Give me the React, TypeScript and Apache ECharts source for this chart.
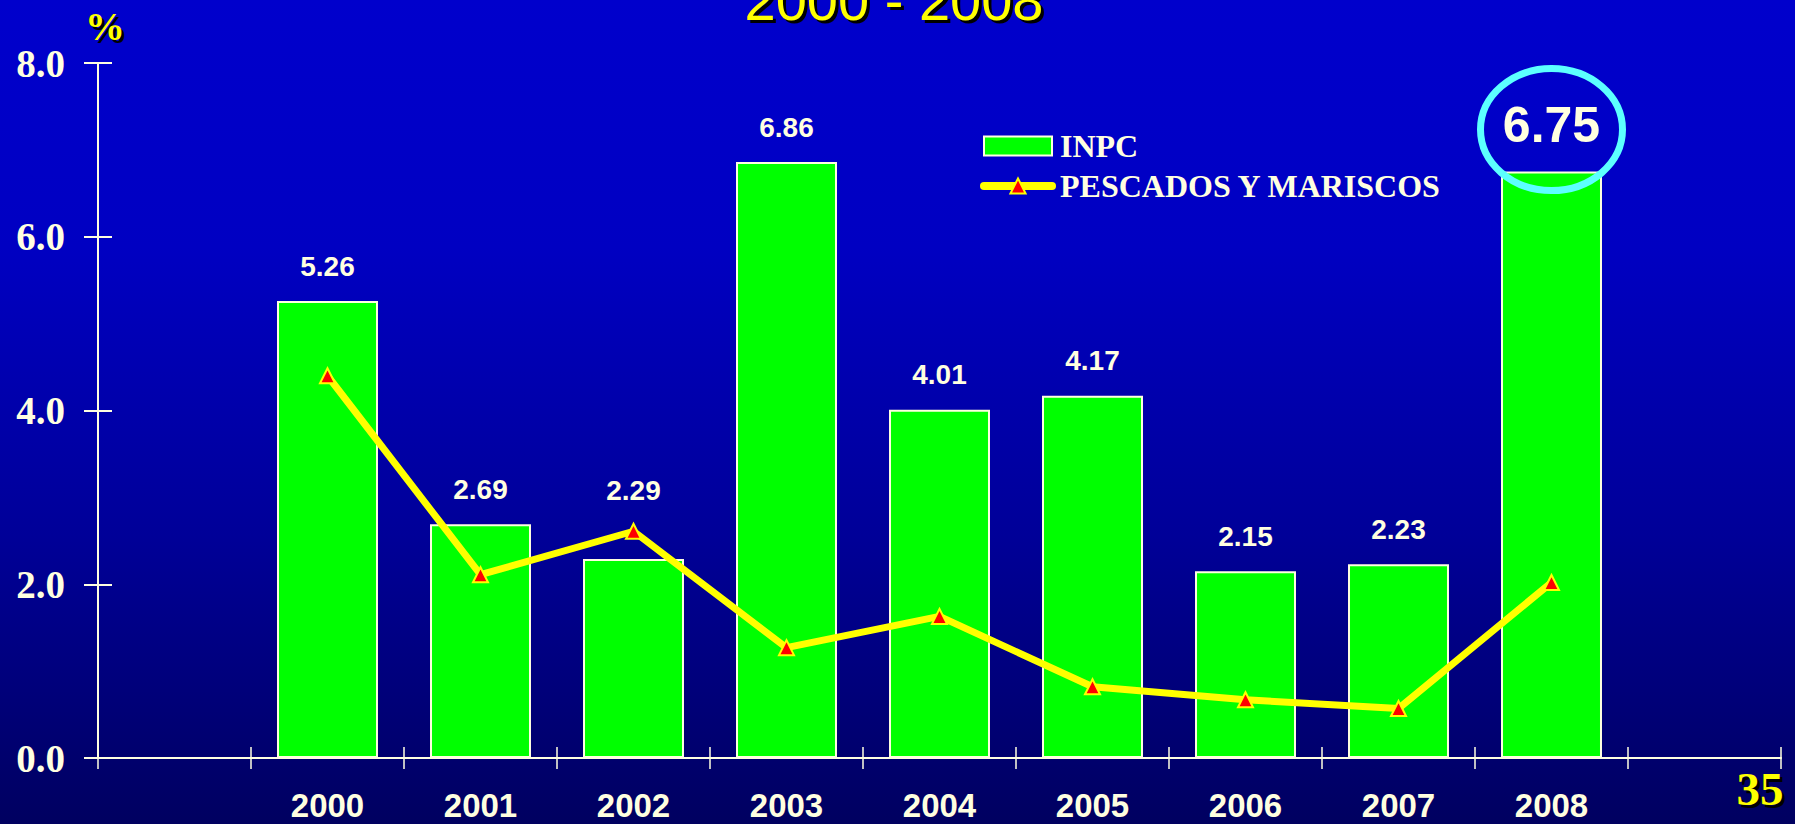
import React, { useEffect, useRef } from "react";
import * as echarts from "echarts";

const years = ["2000", "2001", "2002", "2003", "2004", "2005", "2006", "2007", "2008"];
const inpc = [5.26, 2.69, 2.29, 6.86, 4.01, 4.17, 2.15, 2.23, 6.75];
const pescados = [4.4, 2.11, 2.61, 1.27, 1.63, 0.82, 0.67, 0.57, 2.02];
const yMin = 0;
const yMax = 8;
const yInterval = 2;
const titleText = "2000 - 2008";
const unitText = "%";
const pageNumber = "35";

const CREAM = "#FFFFE0";

export default function App() {
  const ref = useRef<HTMLDivElement>(null);

  useEffect(() => {
    document.body.style.margin = "0";
    const chart = echarts.init(ref.current!, undefined, { renderer: "svg" });

    const categories = ["", ...years, ""];
    const highlightIndex = inpc.length - 1;
    const raisedLabelIndex = 2;
    const barData: any[] = ["-"];
    inpc.forEach((v, i) => {
      if (i === highlightIndex) {
        barData.push({ value: v, label: { fontSize: 50, distance: 22 } });
      } else if (i === raisedLabelIndex) {
        barData.push({ value: v, label: { distance: 55 } });
      } else {
        barData.push(v);
      }
    });
    barData.push("-");
    const lineData: any[] = ["-", ...pescados, "-"];

    const shadowText = (x: number, y: number, text: string, font: any, fill: string) => [
      {
        type: "text",
        x: x + 3,
        y: y + 3,
        z: 99,
        style: { text, fill: "#000000", align: "center", verticalAlign: "middle", ...font },
      },
      {
        type: "text",
        x,
        y,
        z: 100,
        style: { text, fill, align: "center", verticalAlign: "middle", ...font },
      },
    ];

    const tickStyleX = { color: CREAM, width: 1.5 };
    const tickStyleY = { color: CREAM, width: 2 };

    chart.setOption({
      animation: false,
      backgroundColor: new echarts.graphic.LinearGradient(0, 0, 0, 1, [
        { offset: 0, color: "#0000CC" },
        { offset: 0.3, color: "#0000C2" },
        { offset: 0.65, color: "#000098" },
        { offset: 1, color: "#000060" },
      ]),
      grid: { left: 98, right: 14, top: 63, bottom: 66 },
      legend: {
        orient: "vertical",
        left: 975,
        top: 125,
        itemWidth: 68,
        itemHeight: 19,
        itemGap: 8,
        textStyle: {
          color: CREAM,
          fontFamily: "Liberation Serif",
          fontWeight: "bold",
          fontSize: 32,
          padding: [0, 0, 0, 3],
        },
        data: [
          { name: "INPC", icon: "rect" },
          {
            name: "PESCADOS Y MARISCOS",
            lineStyle: { width: 8, cap: "round", color: "#FFFF00" },
          },
        ],
      },
      xAxis: [
        {
          type: "category",
          data: categories,
          position: "bottom",
          show: true,
          axisLine: { show: true, lineStyle: { color: CREAM, width: 2 } },
          axisTick: { show: true, interval: 0, length: 11, lineStyle: tickStyleX },
          axisLabel: {
            color: CREAM,
            fontFamily: "Liberation Sans",
            fontWeight: "bold",
            fontSize: 33,
            margin: 31,
            interval: 0,
          },
        },
        {
          type: "category",
          data: categories,
          position: "bottom",
          show: true,
          offset: -11,
          axisLine: { show: false },
          axisTick: { show: true, interval: 0, length: 11, lineStyle: tickStyleX },
          axisLabel: { show: false },
        },
      ],
      yAxis: [
        {
          type: "value",
          min: yMin,
          max: yMax,
          interval: yInterval,
          position: "left",
          show: true,
          splitLine: { show: false },
          axisLine: { show: true, lineStyle: { color: CREAM, width: 2 } },
          axisTick: { show: true, length: 14, lineStyle: tickStyleY },
          axisLabel: {
            color: CREAM,
            fontFamily: "Liberation Serif",
            fontWeight: "bold",
            fontSize: 39,
            margin: 33,
            formatter: (v: number) => v.toFixed(1),
          },
        },
        {
          type: "value",
          min: yMin,
          max: yMax,
          interval: yInterval,
          position: "left",
          show: true,
          offset: -14,
          splitLine: { show: false },
          axisLine: { show: false },
          axisTick: { show: true, length: 14, lineStyle: tickStyleY },
          axisLabel: { show: false },
        },
      ],
      series: [
        {
          name: "INPC",
          type: "bar",
          data: barData,
          barWidth: "66%",
          itemStyle: { color: "#00FF00", borderColor: CREAM, borderWidth: 2 },
          label: {
            show: true,
            position: "top",
            distance: 21,
            color: CREAM,
            fontFamily: "Liberation Sans",
            fontWeight: "bold",
            fontSize: 28,
            formatter: (p: any) => Number(p.value).toFixed(2),
          },
        },
        {
          name: "PESCADOS Y MARISCOS",
          type: "line",
          data: lineData,
          symbol: "triangle",
          symbolSize: 15,
          lineStyle: { color: "#FFFF00", width: 7 },
          itemStyle: { color: "#FF0000", borderColor: "#FFFF00", borderWidth: 2 },
          z: 3,
        },
      ],
      graphic: [
        ...shadowText(894, 0, titleText, { fontFamily: "Liberation Sans", fontSize: 56 }, "#FFFF00"),
        ...shadowText(105, 26, unitText, { fontFamily: "Liberation Serif", fontWeight: "bold", fontSize: 40 }, "#FFFF00"),
        ...shadowText(1760, 789, pageNumber, { fontFamily: "Liberation Serif", fontWeight: "bold", fontSize: 47 }, "#FFFF00"),
      ],
    });

    const pt = chart.convertToPixel({ gridIndex: 0 } as any, [years[highlightIndex], inpc[highlightIndex]]) as number[];
    if (pt) {
      chart.setOption({
        graphic: [
          {
            type: "ellipse",
            id: "highlight",
            z: 100,
            shape: { cx: pt[0], cy: pt[1] - 42, rx: 71, ry: 61 },
            style: { fill: "none", stroke: "#5CFFFF", lineWidth: 7 },
          },
        ],
      });
    }

    return () => chart.dispose();
  }, []);

  return (
    <div
      ref={ref}
      style={{ position: "fixed", left: 0, top: 0, width: 1795, height: 824 }}
    />
  );
}
